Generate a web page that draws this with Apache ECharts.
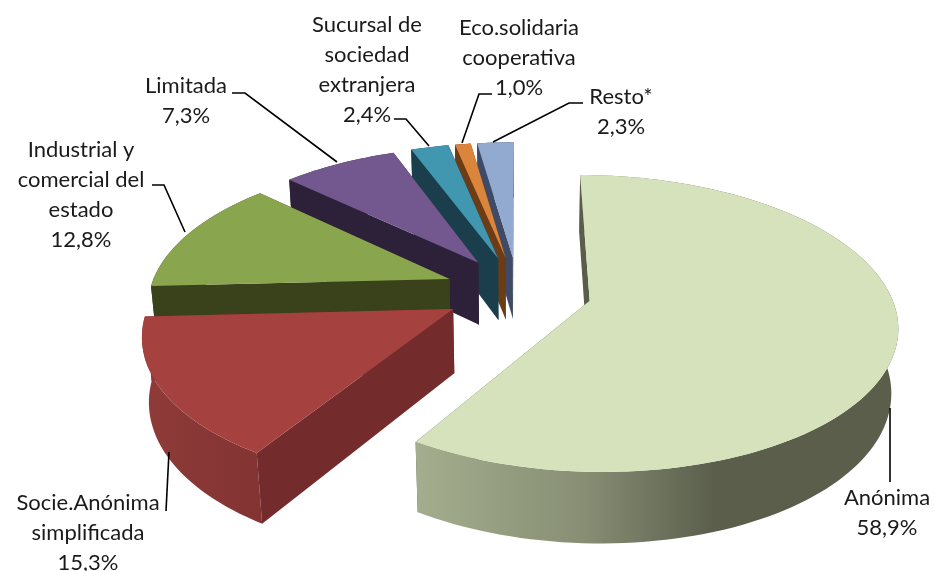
<!DOCTYPE html>
<html>
<head>
<meta charset="utf-8">
<style>
  html, body { margin: 0; background: #fff; }
  #chart { width: 934px; height: 571px; }
</style>
<script src="https://cdn.jsdelivr.net/npm/echarts@6/dist/echarts.min.js"></script>
</head>
<body>
<div id="chart"></div>
<script>
  // chart data
  const categories = ['Anónima', 'Socie.Anónima\nsimplificada', 'Industrial y\ncomercial del\nestado', 'Limitada',
      'Sucursal de\nsociedad\nextranjera', 'Eco.solidaria\ncooperativa', 'Resto*']
  const shares = [58.9, 15.3, 12.8, 7.3, 2.4, 1.0, 2.3]

  // colours of each slice
  const topColors = ['#d6e2bb', '#a54240', '#89a54d', '#72588f', '#4197b0', '#db843c', '#92a9d0']
  const sideColors = ['#595d4a', '#742b2b', '#3a421b', '#2c2138', '#1a3e4b', '#6b3c15', '#3f4b66']
  const rimColors = [
      [[0, '#a4ae8e'], [0.35, '#878e74'], [0.62, '#5a5e4b'], [1, '#5a5e4b']],
      [[0, '#8f3b39'], [1, '#823332']],
      '#3a421b', '#2c2138', '#1a3e4b', '#6b3c15', '#3f4b66'
  ]

  // where the labels and their leader lines sit
  const labelCenters = [[887, 483], [88, 488], [81, 135], [186, 71], [367, 10], [519, 13], [621, 82]]
  const leaderLines = [
      [[890, 408], [890, 482]],
      [[169, 452], [166, 511]],
      [[152, 185], [164, 185], [185, 232]],
      [[232, 93], [245, 93], [337, 162]],
      [[394, 119], [406, 119], [429, 146]],
      [[492, 94], [479, 94], [462, 143]],
      [[583, 103], [569, 103], [493, 142]]
  ]

  // perspective of the 3d pie
  const view = { cx: 518, cy: 291, a: 300, b: 142, h: 64.5, k: 0.1515, m: 0.018, explode: 0.246 }
  const total = shares.reduce((s, v) => s + v, 0)
  const starts = []
  shares.reduce((s, v, i) => { starts[i] = s; return s + v }, 0)

  function project(x, y, z) {
      const w = 1 - view.k * y + view.m * z
      return [view.cx + view.a * x / w, view.cy + (view.b * y + view.h * z) / w]
  }

  function renderSlice(params, api) {
      const i = params.dataIndex
      const from = starts[i] / total * Math.PI * 2
      const to = from + api.value(0) / total * Math.PI * 2
      const mid = (from + to) / 2
      const ox = Math.sin(mid) * view.explode
      const oy = -Math.cos(mid) * view.explode
      const steps = Math.max(3, Math.ceil((to - from) / 0.03))
      const arc = z => {
          const pts = []
          for (let s = 0; s <= steps; s++) {
              const t = from + (to - from) * s / steps
              pts.push(project(ox + Math.sin(t), oy - Math.cos(t), z))
          }
          return pts
      }
      const apexTop = project(ox, oy, 0)
      const apexBottom = project(ox, oy, 1)
      const topArc = arc(0)
      const bottomArc = arc(1)
      const rim = rimColors[i]
      const rimFill = Array.isArray(rim)
          ? new echarts.graphic.LinearGradient(0, 0, 1, 0, rim.map(c => ({ offset: c[0], color: c[1] })))
          : rim
      const base = (shares.length - i) * 10
      const poly = (points, fill, z2) => ({
          type: 'polygon',
          z2: base + z2,
          shape: { points: points },
          style: { fill: fill, stroke: null }
      })
      // far wall, then rim, then the near wall, with the top face last
      return {
          type: 'group',
          children: [
              poly([apexTop, topArc[steps], bottomArc[steps], apexBottom], sideColors[i], 0),
              poly(topArc.concat(bottomArc.slice().reverse()), rimFill, 1),
              poly([apexTop, topArc[0], bottomArc[0], apexBottom], sideColors[i], 2),
              poly([apexTop].concat(topArc), topColors[i], 3)
          ]
      }
  }

  const labelElements = categories.map((name, i) => ({
      type: 'text',
      x: labelCenters[i][0],
      y: labelCenters[i][1],
      style: {
          text: name + '\n' + shares[i].toFixed(1).replace('.', ',') + '%',
          font: '22px Lato',
          fill: '#1a1a1a',
          align: 'center',
          verticalAlign: 'top',
          lineHeight: 30
      }
  }))
  const leaderElements = leaderLines.map(points => ({
      type: 'polyline',
      z: 5,
      shape: { points: points },
      style: { stroke: '#000', lineWidth: 1.6, fill: null }
  }))

  const chart = echarts.init(document.getElementById('chart'))
  chart.setOption({
      animation: false,
      backgroundColor: '#fff',
      graphic: { elements: labelElements.concat(leaderElements) },
      series: [{
          type: 'custom',
          coordinateSystem: 'none',
          silent: true,
          renderItem: renderSlice,
          data: shares.map(v => [v])
      }]
  })
</script>
</body>
</html>
